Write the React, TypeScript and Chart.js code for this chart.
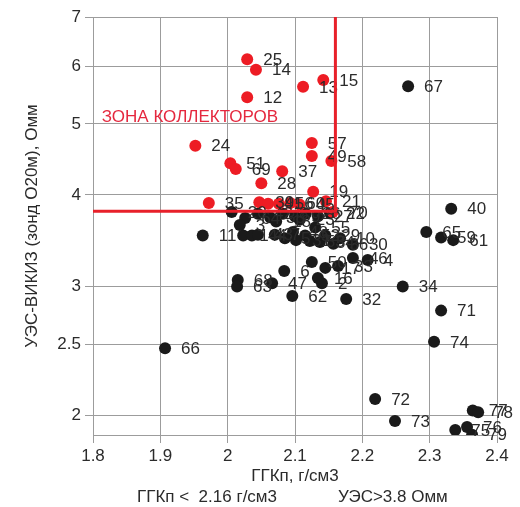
import React, { useEffect, useRef } from 'react';
import { Chart, registerables } from 'chart.js';

Chart.register(...registerables);

// Axis ticks
const xTicks = [1.8, 1.9, 2.0, 2.1, 2.2, 2.3, 2.4];
const yTicks = [2, 2.5, 3, 4, 5, 6, 7];
const xMin = 1.8;
const xMax = 2.4;
const yMin = 1.88;
const yMax = 7;

// Cut-off values
const thresholdX = 2.16;
const thresholdY = 3.8;

// Reservoir (red) points
const redLabels = ['25', '14', '12', '13', '15', '24', '51', '69', '28', '37', '57', '49', '58', '19', '21', '35', '39', '41', '56', '60', '45', '70'];
const redX = [2.029, 2.042, 2.029, 2.112, 2.142, 1.952, 2.004, 2.012, 2.050, 2.081, 2.125, 2.125, 2.154, 2.127, 2.146, 1.972, 2.047, 2.060, 2.076, 2.093, 2.107, 2.156];
const redY = [6.13, 5.93, 5.44, 5.62, 5.74, 4.67, 4.42, 4.34, 4.15, 4.31, 4.71, 4.52, 4.45, 4.04, 3.92, 3.90, 3.91, 3.89, 3.89, 3.90, 3.88, 3.79];

// Non-reservoir (black) points
const blackLabels = ['67', '40', '65', '59', '61', '34', '71', '74', '72', '73', '77', '78', '75', '76', '79', '66', '32', '62', '2', '47', '68', '63', '6', '11', '20',
  '64', '42', '38', '8', '9', '26', '27', '22', '18', '23',
  '3', '1', '44', '43', '7', '5', '48', '31', '52', '53', '55', '54', '29', '36', '10', '30',
  '46', '4', '50', '17', '33', '16'];
const blackX = [2.268, 2.332, 2.295, 2.317, 2.335, 2.260, 2.317, 2.3065, 2.219, 2.2485, 2.364, 2.372, 2.338, 2.3555, 2.363, 1.907, 2.176, 2.096, 2.140, 2.066, 2.015, 2.014, 2.084, 1.963, 2.006,
  2.026, 2.045, 2.063, 2.082, 2.100, 2.116, 2.134, 2.152, 2.072, 2.107,
  2.018, 2.023, 2.036, 2.045, 2.070, 2.085, 2.097, 2.1015, 2.115, 2.122, 2.130, 2.137, 2.145, 2.157, 2.167, 2.186,
  2.186, 2.208, 2.125, 2.145, 2.164, 2.134];
const blackY = [5.63, 3.83, 3.56, 3.50, 3.47, 3.00, 2.78, 2.52, 2.106, 1.965, 2.03, 2.02, 1.91, 1.928, 1.882, 2.47, 2.884, 2.91, 3.03, 3.03, 3.06, 3.00, 3.15, 3.52, 3.79,
  3.72, 3.77, 3.73, 3.77, 3.74, 3.77, 3.74, 3.78, 3.68, 3.70,
  3.64, 3.52, 3.52, 3.53, 3.53, 3.49, 3.56, 3.47, 3.52, 3.46, 3.61, 3.45, 3.52, 3.43, 3.49, 3.42,
  3.28, 3.26, 3.24, 3.18, 3.20, 3.08];

const FONT = "'Liberation Sans', Arial, sans-serif";
const RED = '#ed1c24';
const BLACK = '#1a1a1a';
const TEXT = '#2b2b2b';
const GRID = '#9c9c9c';

export default function App() {
  const ref = useRef<HTMLCanvasElement>(null);

  useEffect(() => {
    if (!ref.current) return;
    const labelSets = [redLabels, blackLabels];

    const overlay = {
      id: 'overlay',
      afterDatasetsDraw(chart: any) {
        const ctx = chart.ctx;
        const xs = chart.scales.x;
        const ys = chart.scales.y;
        ctx.save();
        // point labels
        ctx.font = `17px ${FONT}`;
        ctx.fillStyle = TEXT;
        ctx.textBaseline = 'middle';
        ctx.textAlign = 'left';
        chart.data.datasets.forEach((_ds: any, i: number) => {
          const meta = chart.getDatasetMeta(i);
          const labels = labelSets[i];
          meta.data.forEach((pt: any, j: number) => {
            ctx.fillText(labels[j], pt.x + 16, pt.y + 1);
          });
        });
        // cut-off lines
        ctx.strokeStyle = '#e8202a';
        ctx.lineWidth = 3;
        ctx.beginPath();
        ctx.moveTo(xs.getPixelForValue(xMin), ys.getPixelForValue(thresholdY));
        ctx.lineTo(xs.getPixelForValue(thresholdX), ys.getPixelForValue(thresholdY));
        ctx.lineTo(xs.getPixelForValue(thresholdX), ys.getPixelForValue(yMax));
        ctx.stroke();
        // zone caption
        ctx.fillStyle = '#e5283e';
        ctx.fillText('ЗОНА КОЛЛЕКТОРОВ', xs.getPixelForValue(1.813), ys.getPixelForValue(5.11));
        // bottom caption
        ctx.fillStyle = TEXT;
        ctx.fillText('ГГКп <  2.16 г/см3', 137, 497);
        ctx.fillText('УЭС>3.8 Омм', 338, 497);
        ctx.restore();
      },
    };

    const chart = new Chart(ref.current, {
      type: 'scatter',
      data: {
        datasets: [
          {
            label: 'red',
            data: redX.map((x, i) => ({ x, y: redY[i] })),
            backgroundColor: RED,
            borderWidth: 0,
            pointRadius: 6,
            order: 1,
          },
          {
            label: 'black',
            data: blackX.map((x, i) => ({ x, y: blackY[i] })),
            backgroundColor: BLACK,
            borderWidth: 0,
            pointRadius: 6,
            order: 2,
          },
        ],
      },
      options: {
        animation: false,
        responsive: false,
        devicePixelRatio: 1,
        layout: { padding: { top: 17, right: 23, left: 0, bottom: 0 } },
        plugins: { legend: { display: false }, tooltip: { enabled: false } },
        scales: {
          x: {
            type: 'linear',
            min: xMin,
            max: xMax,
            afterBuildTicks: (s: any) => { s.ticks = xTicks.map((v) => ({ value: v })); },
            afterFit: (s: any) => { s.height = 72; },
            ticks: { font: { size: 17, family: FONT }, color: TEXT, padding: 3, callback: (v: any) => String(v) },
            grid: { color: GRID, lineWidth: 1, tickLength: 8 },
            border: { display: true, color: GRID },
            title: { display: true, text: 'ГГКп, г/см3', font: { size: 17, family: FONT }, color: TEXT, padding: { top: 0, bottom: 20 } },
          },
          y: {
            type: 'logarithmic',
            min: yMin,
            max: yMax,
            afterBuildTicks: (s: any) => { s.ticks = yTicks.map((v) => ({ value: v })); },
            afterFit: (s: any) => { s.width = 93; },
            ticks: { font: { size: 17, family: FONT }, color: TEXT, padding: 4, callback: (v: any) => String(v) },
            grid: { color: GRID, lineWidth: 1, tickLength: 8 },
            border: { display: true, color: GRID },
            title: { display: true, text: 'УЭС-ВИКИЗ (зонд О20м), Омм', font: { size: 17, family: FONT }, color: TEXT, padding: { top: 22, bottom: 0 } },
          },
        },
      },
      plugins: [overlay],
    } as any);

    return () => chart.destroy();
  }, []);

  return (
    <canvas ref={ref} width={520} height={507} style={{ position: 'fixed', left: 0, top: 0, background: '#fff' }} />
  );
}
